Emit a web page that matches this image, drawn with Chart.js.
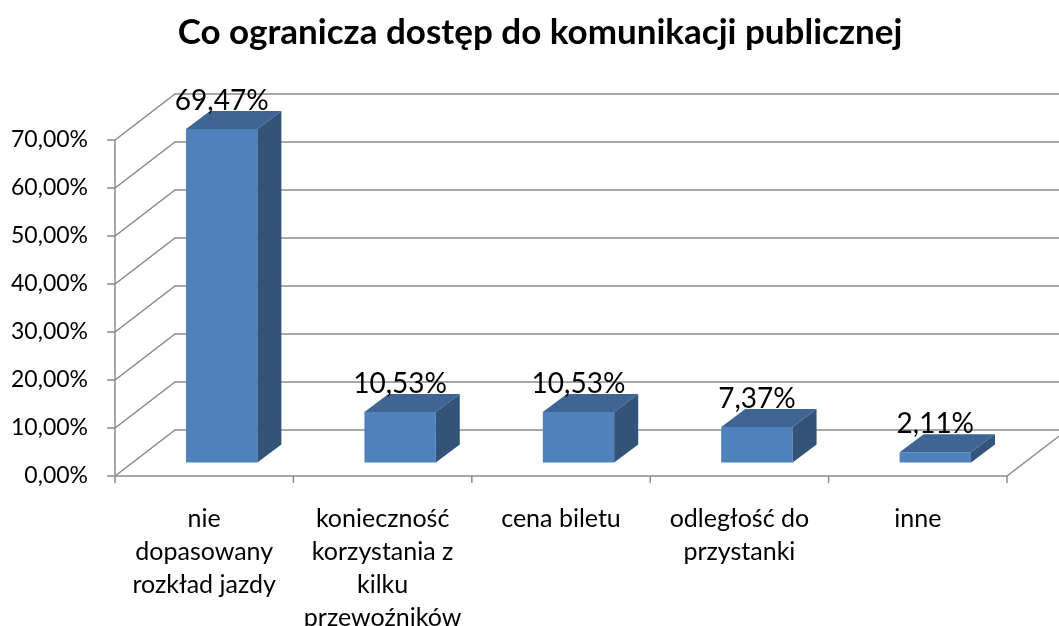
<!DOCTYPE html>
<html lang="pl">
<head>
  <meta charset="UTF-8" />
  <title>Co ogranicza dostęp do komunikacji publicznej</title>
  <script src="https://cdn.jsdelivr.net/npm/chart.js@4"></script>
  <style>
    html, body { margin: 0; padding: 0; background: #fff; }
    #wrap { width: 1059px; height: 626px; }
  </style>
</head>
<body>
  <div id="wrap"><canvas id="wykres"></canvas></div>

  <script>
    // dane
    const tytul = 'Co ogranicza dostęp do komunikacji publicznej';
    const kategorie = [
      ['nie', 'dopasowany', 'rozkład jazdy'],
      ['konieczność', 'korzystania z', 'kilku', 'przewoźników'],
      'cena biletu',
      ['odległość do', 'przystanki'],
      'inne'
    ];
    const wartosci = [69.47, 10.53, 10.53, 7.37, 2.11];
    const etykiety = ['69,47%', '10,53%', '10,53%', '7,37%', '2,11%'];
    const osY = { min: 0, max: 70, krok: 10 };

    // przesuniecia "3d"
    const sciana = { dx: 60, dy: -46 };     // tylna sciana
    const przod = { dx: 17.5, dy: -13.5 };  // przednia sciana slupka
    const glab = { dx: 24, dy: -18 };       // glebokosc slupka

    const kolorPrzod = '#4F81BD', kolorGora = '#3E6594', kolorBok = '#335379';
    const kolorSiatki = '#8c8c8c';

    const trojwymiar = {
      id: 'trojwymiar',
      beforeDatasetsDraw(chart) {
        const { ctx, chartArea: a, scales: { x, y } } = chart;
        ctx.save();
        ctx.strokeStyle = kolorSiatki;
        ctx.lineWidth = 1.5;
        // linie siatki: kreska, skos, tylna sciana
        y.ticks.forEach(t => {
          const py = y.getPixelForValue(t.value);
          ctx.beginPath();
          ctx.moveTo(a.left - 8, py);
          ctx.lineTo(a.left, py);
          ctx.lineTo(a.left + sciana.dx, py + sciana.dy);
          ctx.lineTo(a.right + sciana.dx, py + sciana.dy);
          ctx.stroke();
        });
        // osie przednie i prawa krawedz podlogi
        ctx.beginPath();
        ctx.moveTo(a.left, a.top);
        ctx.lineTo(a.left, a.bottom);
        ctx.lineTo(a.right, a.bottom);
        ctx.lineTo(a.right + sciana.dx, a.bottom + sciana.dy);
        ctx.stroke();
        // kreski kategorii
        for (let i = 0; i <= kategorie.length; i++) {
          const px = x.getPixelForValue(i - 0.5);
          ctx.beginPath();
          ctx.moveTo(px, a.bottom);
          ctx.lineTo(px, a.bottom + 7);
          ctx.stroke();
        }
        ctx.restore();
        ctx.save();
        ctx.translate(przod.dx, przod.dy);
      },
      afterDatasetsDraw(chart) {
        const { ctx } = chart;
        chart.getDatasetMeta(0).data.forEach((bar, i) => {
          const { x, y, base, width } = bar.getProps(['x', 'y', 'base', 'width'], true);
          const l = x - width / 2, r = x + width / 2;
          ctx.fillStyle = kolorGora;
          ctx.beginPath();
          ctx.moveTo(l, y); ctx.lineTo(r, y);
          ctx.lineTo(r + glab.dx, y + glab.dy); ctx.lineTo(l + glab.dx, y + glab.dy);
          ctx.closePath(); ctx.fill();
          ctx.fillStyle = kolorBok;
          ctx.beginPath();
          ctx.moveTo(r, y); ctx.lineTo(r + glab.dx, y + glab.dy);
          ctx.lineTo(r + glab.dx, base + glab.dy); ctx.lineTo(r, base);
          ctx.closePath(); ctx.fill();
          // etykieta wartosci
          ctx.fillStyle = '#000';
          ctx.font = '28px Lato';
          ctx.textAlign = 'center';
          ctx.textBaseline = 'alphabetic';
          ctx.fillText(etykiety[i], x, y + glab.dy - 1);
        });
        ctx.restore();
      },
      afterDraw(chart) {
        const { ctx } = chart;
        ctx.save();
        ctx.fillStyle = '#000';
        ctx.font = 'bold 35px Lato';
        ctx.textAlign = 'center';
        ctx.textBaseline = 'alphabetic';
        ctx.fillText(tytul, 540, 44);
        ctx.restore();
      }
    };

    Chart.defaults.font.family = 'Lato';
    Chart.defaults.color = '#000';

    new Chart(document.getElementById('wykres'), {
      type: 'bar',
      data: {
        labels: kategorie,
        datasets: [{
          data: wartosci,
          backgroundColor: kolorPrzod,
          borderWidth: 0,
          categoryPercentage: 1,
          barPercentage: 0.4,
          clip: false
        }]
      },
      options: {
        responsive: true,
        maintainAspectRatio: false,
        animation: false,
        events: [],
        layout: { padding: { left: 0, right: 52, top: 140, bottom: 0 } },
        plugins: {
          legend: { display: false },
          tooltip: { enabled: false },
          title: { display: false }
        },
        scales: {
          x: {
            grid: { display: false, drawTicks: false },
            border: { display: false },
            ticks: {
              autoSkip: false, maxRotation: 0, minRotation: 0,
              padding: 26,
              font: { size: 25, lineHeight: '33px' }
            },
            afterFit(s) { s.height = 150; }
          },
          y: {
            min: osY.min, max: osY.max,
            grid: { display: false, drawTicks: false },
            border: { display: false },
            ticks: {
              stepSize: osY.krok,
              padding: 27,
              font: { size: 23 },
              callback: v => v.toFixed(2).replace('.', ',') + '%'
            },
            afterFit(s) { s.width = 115; }
          }
        }
      },
      plugins: [trojwymiar]
    });
  </script>
</body>
</html>
